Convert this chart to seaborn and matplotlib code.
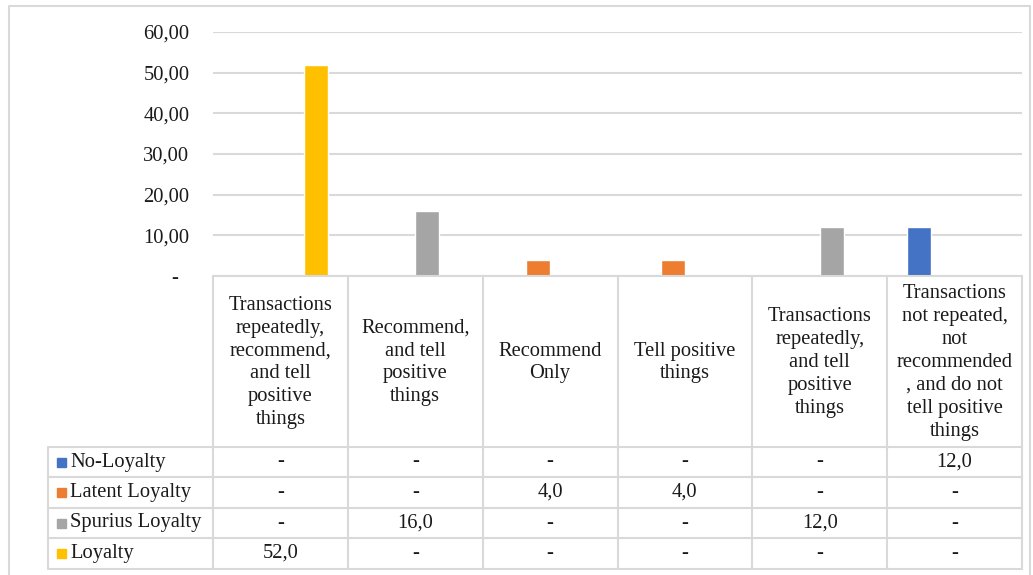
import numpy as np
import pandas as pd
import seaborn as sns
import matplotlib.pyplot as plt
from matplotlib.ticker import FuncFormatter

categories = [
    "Transactions\nrepeatedly,\nrecommend,\nand tell\npositive\nthings",
    "Recommend,\nand tell\npositive\nthings",
    "Recommend\nOnly",
    "Tell positive\nthings",
    "Transactions\nrepeatedly,\nand tell\npositive\nthings",
    "Transactions\nnot repeated,\nnot\nrecommended\n, and do not\ntell positive\nthings",
]
series = ["No-Loyalty", "Latent Loyalty", "Spurius Loyalty", "Loyalty"]
no_loyalty = [0, 0, 0, 0, 0, 12]
latent_loyalty = [0, 0, 4, 4, 0, 0]
spurius_loyalty = [0, 16, 0, 0, 12, 0]
loyalty = [52, 0, 0, 0, 0, 0]
colors = ["#4472C4", "#ED7D31", "#A5A5A5", "#FFC000"]

values = [no_loyalty, latent_loyalty, spurius_loyalty, loyalty]
df = pd.DataFrame({
    "cat": np.tile(np.arange(len(categories)), len(series)),
    "series": np.repeat(series, len(categories)),
    "value": np.concatenate(values),
})

sns.set_style("white")
plt.rcParams["font.family"] = ["Liberation Serif", "DejaVu Serif"]
FS = 14.8
GRID = "#d9d9d9"
TXT = "#1a1a1a"

W, H = 1033, 575
fig = plt.figure(figsize=(W / 100, H / 100), dpi=100)

# pixel layout
x0, x1 = 213, 1022
y_top, y_zero = 32, 276
lab_x = 48
row_lines = [447, 477, 508, 538, 569]

ax = fig.add_axes([x0 / W, 1 - y_zero / H, (x1 - x0) / W, (y_zero - y_top) / H])
sns.barplot(data=df, x="cat", y="value", hue="series", hue_order=series,
            palette=colors, width=0.71, dodge=True, saturation=1,
            legend=False, ax=ax)
ax.set_xlim(-0.5, len(categories) - 0.5)
ax.set_ylim(0, 60)
ax.set_yticks(np.arange(0, 61, 10))
ax.yaxis.set_major_formatter(FuncFormatter(
    lambda v, p: "-  " if v == 0 else f"{v:.2f}".replace(".", ",")))
ax.tick_params(axis="y", length=0, pad=17, labelsize=FS, labelcolor=TXT)
ax.set_xticks([])
ax.set_xlabel("")
ax.set_ylabel("")
ax.yaxis.grid(True, color=GRID, linewidth=1.5)
ax.set_axisbelow(True)
for s in ax.spines.values():
    s.set_visible(False)

# overlay in pixel coords for the data table
ov = fig.add_axes([0, 0, 1, 1])
ov.set_xlim(0, W)
ov.set_ylim(H, 0)
ov.axis("off")
ov.patch.set_visible(False)

# outer chart border
ov.plot([9, 9, 1030, 1030], [H + 5, 6, 6, H + 5], color=GRID, lw=1.5)

col_w = (x1 - x0) / len(categories)
col_edges = [x0 + i * col_w for i in range(len(categories) + 1)]
ov.plot([x0, x1], [y_zero, y_zero], color=GRID, lw=1.5)
for xe in col_edges:
    ov.plot([xe, xe], [y_zero, row_lines[-1]], color=GRID, lw=1.5)
ov.plot([lab_x, lab_x], [row_lines[0], row_lines[-1]], color=GRID, lw=1.5)
for yl in row_lines:
    ov.plot([lab_x, x1], [yl, yl], color=GRID, lw=1.5)

for i, c in enumerate(categories):
    ov.text(x0 + (i + 0.5) * col_w, (y_zero + row_lines[0]) / 2 + 1, c,
            ha="center", va="center", fontsize=FS, linespacing=1.28,
            color=TXT)

for r, (name, vals, col) in enumerate(zip(series, values, colors)):
    yc = (row_lines[r] + row_lines[r + 1]) / 2
    ov.add_patch(plt.Rectangle((57, yc - 4.5), 9, 9, color=col))
    ov.text(70, yc, name, ha="left", va="center", fontsize=FS, color=TXT)
    for i, v in enumerate(vals):
        txt = "-" if v == 0 else f"{v:.1f}".replace(".", ",")
        ov.text(x0 + (i + 0.5) * col_w, yc, txt, ha="center", va="center",
                fontsize=FS, color=TXT)

fig.savefig("out.png", dpi=100)
